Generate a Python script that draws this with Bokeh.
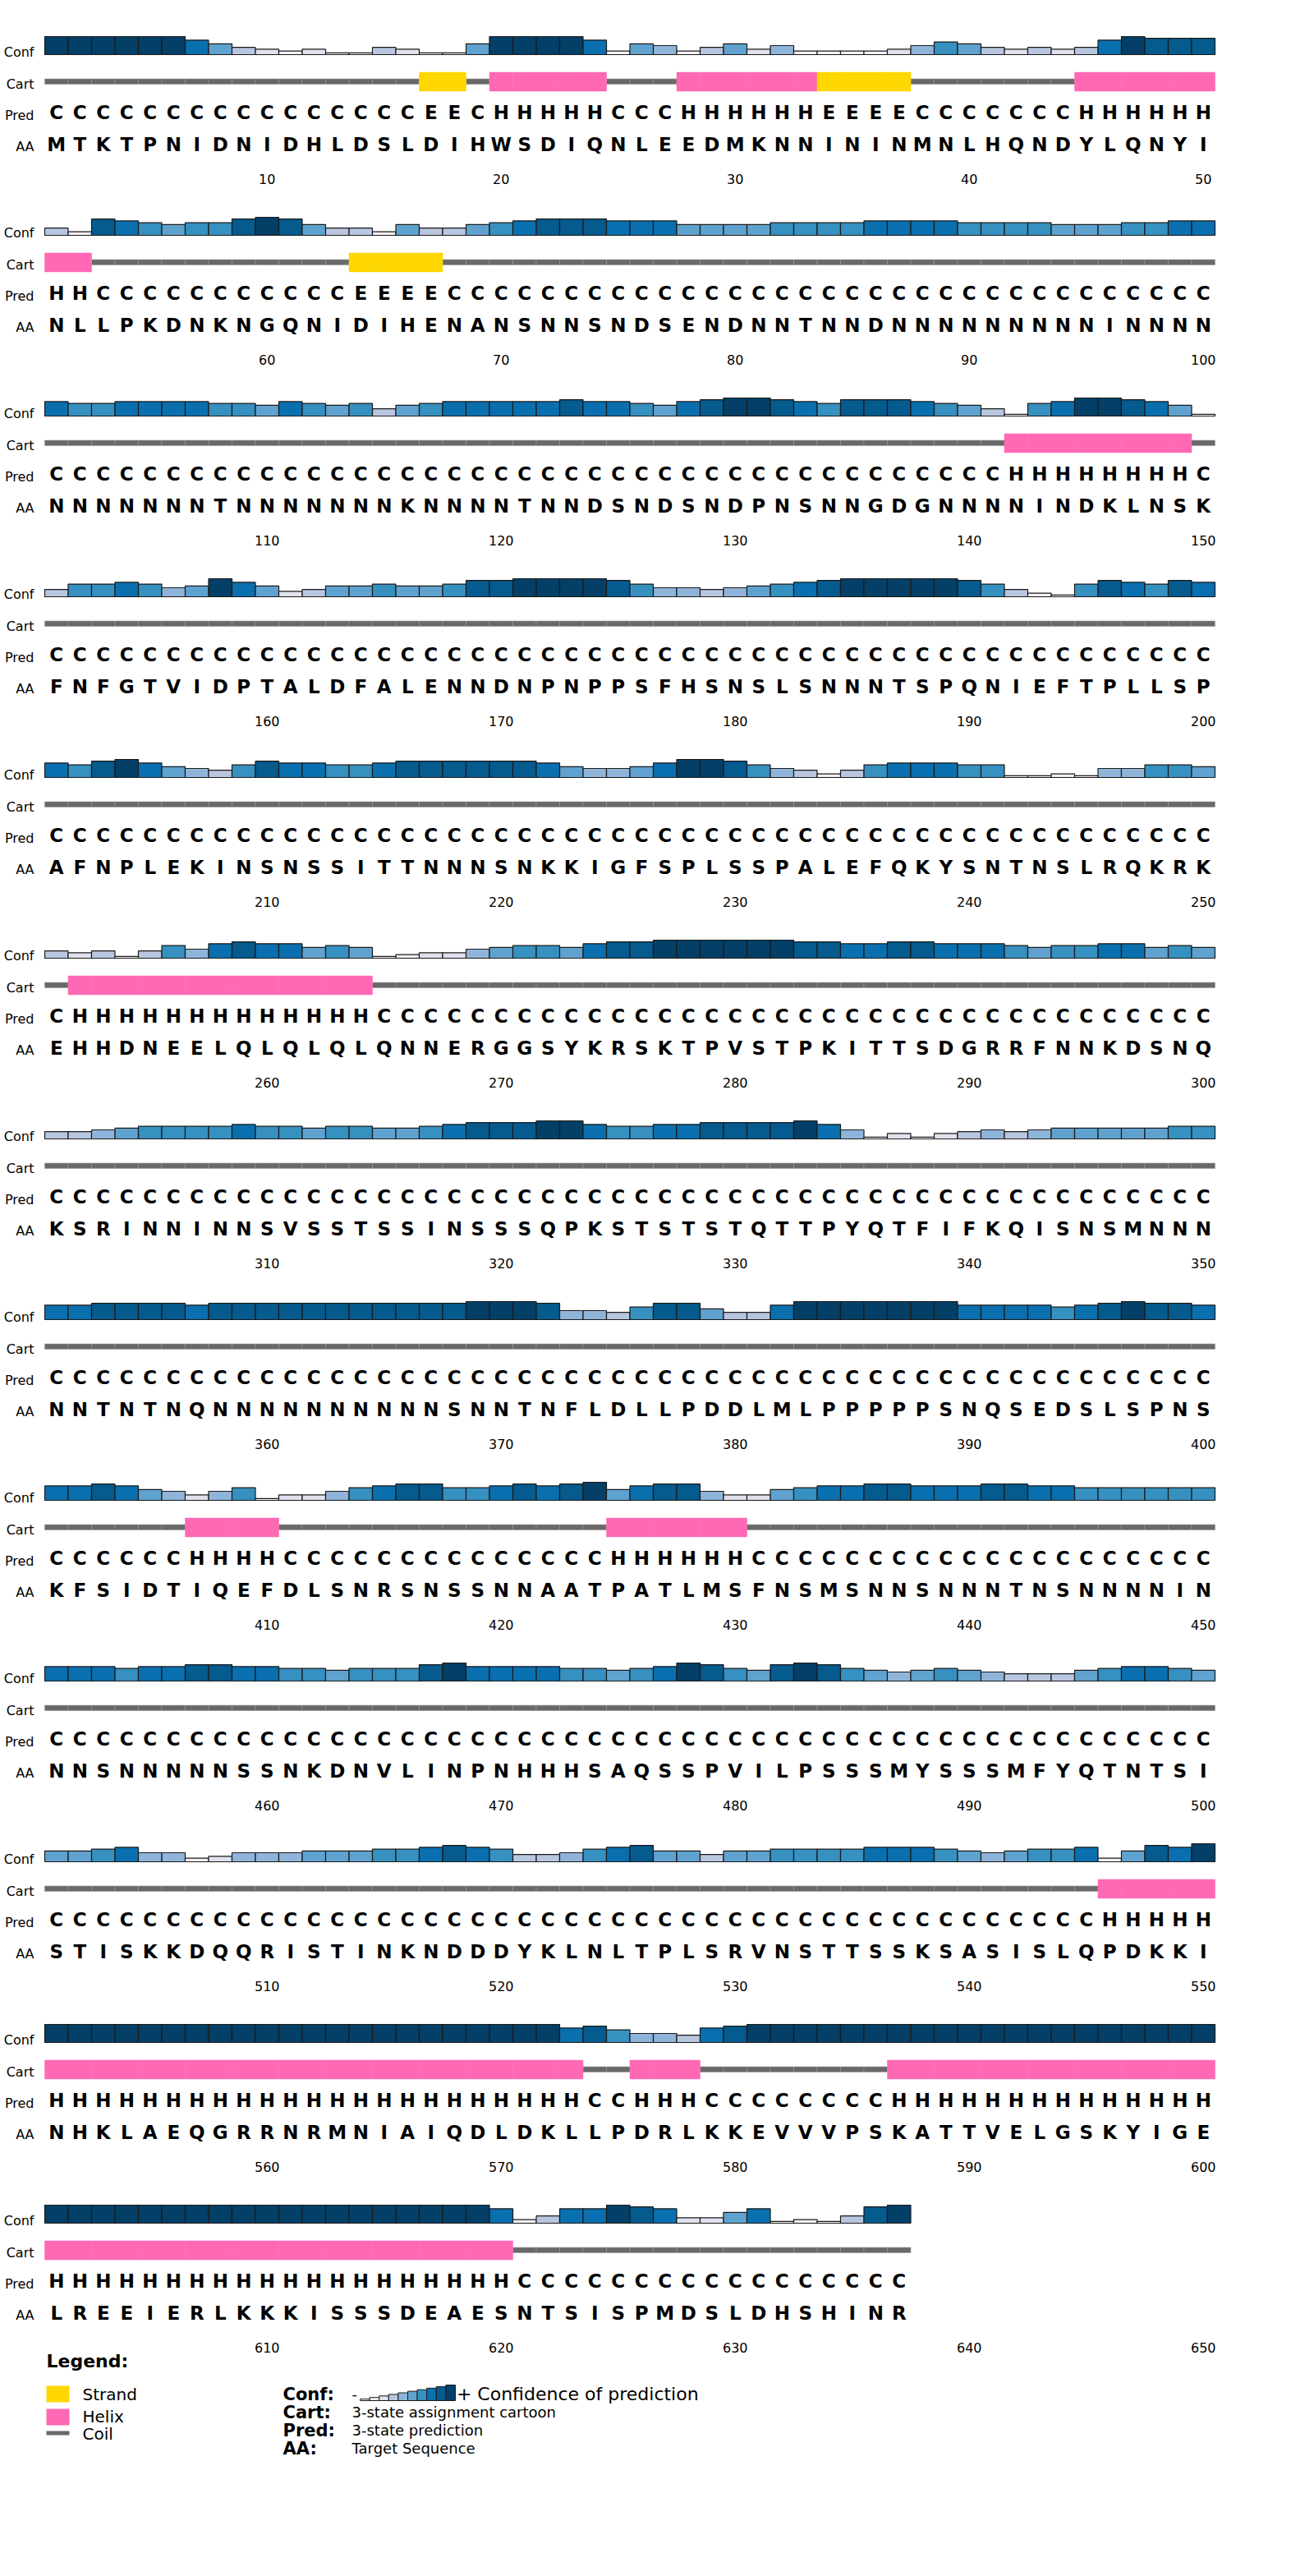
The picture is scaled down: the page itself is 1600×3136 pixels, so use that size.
from bokeh.plotting import figure
from bokeh.models import Range1d, ColumnDataSource
from bokeh.embed import file_html
from bokeh.resources import INLINE
from bokeh.core.properties import value

# ---------------- data ----------------
aa_blocks = [
    "MTKTPNIDNIDHLDSLDIHWSDIQNLEEDMKNNININMNLHQNDYLQNYI",
    "NLLPKDNKNGQNIDIHENANSNNSNDSENDNNTNNDNNNNNNNNNINNNN",
    "NNNNNNNTNNNNNNNKNNNNTNNDSNDSNDPNSNNGDGNNNNINDKLNSK",
    "FNFGTVIDPTALDFALENNDNPNPPSFHSNSLSNNNTSPQNIEFTPLLSP",
    "AFNPLEKINSNSSITTNNNSNKKIGFSPLSSPALEFQKYSNTNSLRQKRK",
    "EHHDNEELQLQLQLQNNERGGSYKRSKTPVSTPKITTSDGRRFNNKDSNQ",
    "KSRINNINNSVSSTSSINSSSQPKSTSTSTQTTPYQTFIFKQISNSMNNN",
    "NNTNTNQNNNNNNNNNNSNNTNFLDLLPDDLMLPPPPPSNQSEDSLSPNS",
    "KFSIDTIQEFDLSNRSNSSNNAATPATLMSFNSMSNNSNNNTNSNNNNIN",
    "NNSNNNNNSSNKDNVLINPNHHHSAQSSPVILPSSSMYSSSMFYQTNTSI",
    "STISKKDQQRISTINKNDDDYKLNLTPLSRVNSTTSSKSASISLQPDKKI",
    "NHKLAEQGRRNRMNIAIQDLDKLLPDRLKKEVVVPSKATTVELGSKYIGE",
    "LREEIERLKKKISSSDEAESNTSISPMDSLDHSHINR",
]
pred_blocks = [
    "CCCCCCCCCCCCCCCCEECHHHHHCCCHHHHHHEEEECCCCCCCHHHHHH",
    "HHCCCCCCCCCCCEEEECCCCCCCCCCCCCCCCCCCCCCCCCCCCCCCCC",
    "CCCCCCCCCCCCCCCCCCCCCCCCCCCCCCCCCCCCCCCCCHHHHHHHHC",
    "CCCCCCCCCCCCCCCCCCCCCCCCCCCCCCCCCCCCCCCCCCCCCCCCCC",
    "CCCCCCCCCCCCCCCCCCCCCCCCCCCCCCCCCCCCCCCCCCCCCCCCCC",
    "CHHHHHHHHHHHHHCCCCCCCCCCCCCCCCCCCCCCCCCCCCCCCCCCCC",
    "CCCCCCCCCCCCCCCCCCCCCCCCCCCCCCCCCCCCCCCCCCCCCCCCCC",
    "CCCCCCCCCCCCCCCCCCCCCCCCCCCCCCCCCCCCCCCCCCCCCCCCCC",
    "CCCCCCHHHHCCCCCCCCCCCCCCHHHHHHCCCCCCCCCCCCCCCCCCCC",
    "CCCCCCCCCCCCCCCCCCCCCCCCCCCCCCCCCCCCCCCCCCCCCCCCCC",
    "CCCCCCCCCCCCCCCCCCCCCCCCCCCCCCCCCCCCCCCCCCCCCHHHHH",
    "HHHHHHHHHHHHHHHHHHHHHHHCCHHHCCCCCCCCHHHHHHHHHHHHHH",
    "HHHHHHHHHHHHHHHHHHHHCCCCCCCCCCCCCCCCC",
]
conf_blocks = [
    "99999975321200320059999715413524111124653232379888",
    "31876566898533153356788877755556666777766665556677",
    "76677776657656356777778776578998768887653067998750",
    "36676459752355655688999986443456789999986310687687",
    "76897543687766788888875445799864313677766001044665",
    "32303647877565012245665788999999887788777656677565",
    "33456666766566556788899766778888974020234345555566",
    "77888878888888888899984436885337999999977776789887",
    "77875424602246788667878957884225677887778877666666",
    "77767788776656668977776656798658986545654333567765",
    "55674412444555667876334678553556666777654566715879",
    "99999999999999999999997864437899999999999999999999",
    "9999999999999999999713779872257010389",
]
tick_labels = [str(v) for v in range(10, 660, 10)]
row_labels = ["Conf", "Cart", "Pred", "AA"]
legend_items = ["Strand", "Helix", "Coil"]
key_labels = ["Conf:", "Cart:", "Pred:", "AA:"]
key_texts = ["Confidence of prediction", "3-state assignment cartoon",
             "3-state prediction", "Target Sequence"]

# ---------------- layout constants ----------------
W, H = 1600, 3136
X0 = 54.0        # left pixel of the track
COLW = 28.5      # pixel width of one residue column
BH = 220         # block height in pixels

CONF_COL = ["#fff7fb", "#f4eff7", "#e0e0ee", "#b8c6e0", "#8fb4d9",
            "#5fa2cf", "#3690c0", "#0a6fae", "#055a8e", "#033f66"]
HELIX = "#ff69b4"
STRAND = "#ffd700"
COIL = "#696969"
FONT = value("DejaVu Sans")


def px(xp):
    return (xp - X0) / COLW


p = figure(width=W, height=H, output_backend="svg", toolbar_location=None,
           x_range=Range1d(px(0), px(W)), y_range=Range1d(H, 0),
           min_border=0)
p.axis.visible = False
p.grid.visible = False
p.outline_line_color = None
p.background_fill_color = "white"

cb = dict(l=[], r=[], t=[], b=[], c=[])
coil = dict(l=[], r=[], t=[], b=[])
hel = dict(l=[], r=[], t=[], b=[])
strd = dict(l=[], r=[], t=[], b=[])
pred_t = dict(x=[], y=[], t=[])
aa_t = dict(x=[], y=[], t=[])
lab = dict(x=[], y=[], t=[])
tick = dict(x=[], y=[], t=[])

for k, (aa, pr, cf) in enumerate(zip(aa_blocks, pred_blocks, conf_blocks)):
    oy = BH * k
    for i, (a, s, c) in enumerate(zip(aa, pr, cf)):
        lv = int(c)
        cb["l"].append(i); cb["r"].append(i + 1)
        cb["b"].append(oy + 66); cb["t"].append(oy + 66 - 2.2 * (lv + 1))
        cb["c"].append(CONF_COL[lv])
        if s == "H":
            d = hel; t0, t1 = oy + 87.5, oy + 110.5
        elif s == "E":
            d = strd; t0, t1 = oy + 87.5, oy + 110.5
        else:
            d = coil; t0, t1 = oy + 95.5, oy + 102
        d["l"].append(i); d["r"].append(i + 1); d["t"].append(t0); d["b"].append(t1)
        pred_t["x"].append(i + 0.5); pred_t["y"].append(oy + 136); pred_t["t"].append(s)
        aa_t["x"].append(i + 0.5); aa_t["y"].append(oy + 175.5); aa_t["t"].append(a)
    for name, yy in zip(row_labels, (63, 102, 140, 178)):
        lab["x"].append(px(41)); lab["y"].append(oy + yy); lab["t"].append(name)
    for j in range(5):
        tick["x"].append(10 * j + 9.5); tick["y"].append(oy + 217)
        tick["t"].append(tick_labels[k * 5 + j])

p.quad(left="l", right="r", top="t", bottom="b", source=ColumnDataSource(coil),
       fill_color=COIL, line_color="#9a9a9a", line_width=0.6)
p.quad(left="l", right="r", top="t", bottom="b", source=ColumnDataSource(hel),
       fill_color=HELIX, line_color=HELIX, line_width=0.5)
p.quad(left="l", right="r", top="t", bottom="b", source=ColumnDataSource(strd),
       fill_color=STRAND, line_color=STRAND, line_width=0.5)
p.quad(left="l", right="r", top="t", bottom="b", source=ColumnDataSource(cb),
       fill_color="c", line_color="#1b1b1b", line_width=1.2)

for src in (pred_t, aa_t):
    p.text(x="x", y="y", text="t", source=ColumnDataSource(src), text_align="center",
           text_baseline="middle", text_font=FONT, text_font_style="bold",
           text_font_size="23px", text_color="black")
p.text(x="x", y="y", text="t", source=ColumnDataSource(lab), text_align="right",
       text_baseline="middle", text_font=FONT, text_font_size="16px", text_color="black")
p.text(x="x", y="y", text="t", source=ColumnDataSource(tick), text_align="center",
       text_baseline="middle", text_font=FONT, text_font_size="16px", text_color="black")

# ---------------- legend ----------------
LY = 2874
p.text(x=[px(56)], y=[LY], text=["Legend:"], text_align="left", text_baseline="middle",
       text_font=FONT, text_font_style="bold", text_font_size="22px")
p.quad(left=[px(56)], right=[px(84)], top=[LY + 30], bottom=[LY + 50],
       fill_color=STRAND, line_color=None)
p.quad(left=[px(56)], right=[px(84)], top=[LY + 58], bottom=[LY + 78],
       fill_color=HELIX, line_color=None)
p.quad(left=[px(56)], right=[px(84)], top=[LY + 85], bottom=[LY + 90],
       fill_color=COIL, line_color=None)
p.text(x=[px(100)] * 3, y=[LY + 40, LY + 67, LY + 88], text=legend_items,
       text_align="left", text_baseline="middle", text_font=FONT, text_font_size="20px")

ky = [LY + 40, LY + 62, LY + 84, LY + 106]
p.text(x=[px(344)] * 4, y=ky, text=key_labels, text_align="left", text_baseline="middle",
       text_font=FONT, text_font_style="bold", text_font_size="21px")
p.text(x=[px(428)] + [px(428)] * 3, y=ky, text=["-"] + key_texts[1:],
       text_align="left", text_baseline="middle", text_font=FONT, text_font_size="18px")
sw = 11.6 / COLW
lv = list(range(10))
p.quad(left=[px(438) + j * sw for j in lv], right=[px(438) + (j + 1) * sw for j in lv],
       bottom=[LY + 48] * 10, top=[LY + 48 - 1.9 * (j + 1) for j in lv],
       fill_color=CONF_COL, line_color="#1b1b1b", line_width=1)
p.text(x=[px(438) + 10 * sw + 0.05], y=[LY + 40], text=["+ " + key_texts[0]],
       text_align="left", text_baseline="middle", text_font=FONT, text_font_size="22px")

open("out.html", "w").write(file_html(p, INLINE))
